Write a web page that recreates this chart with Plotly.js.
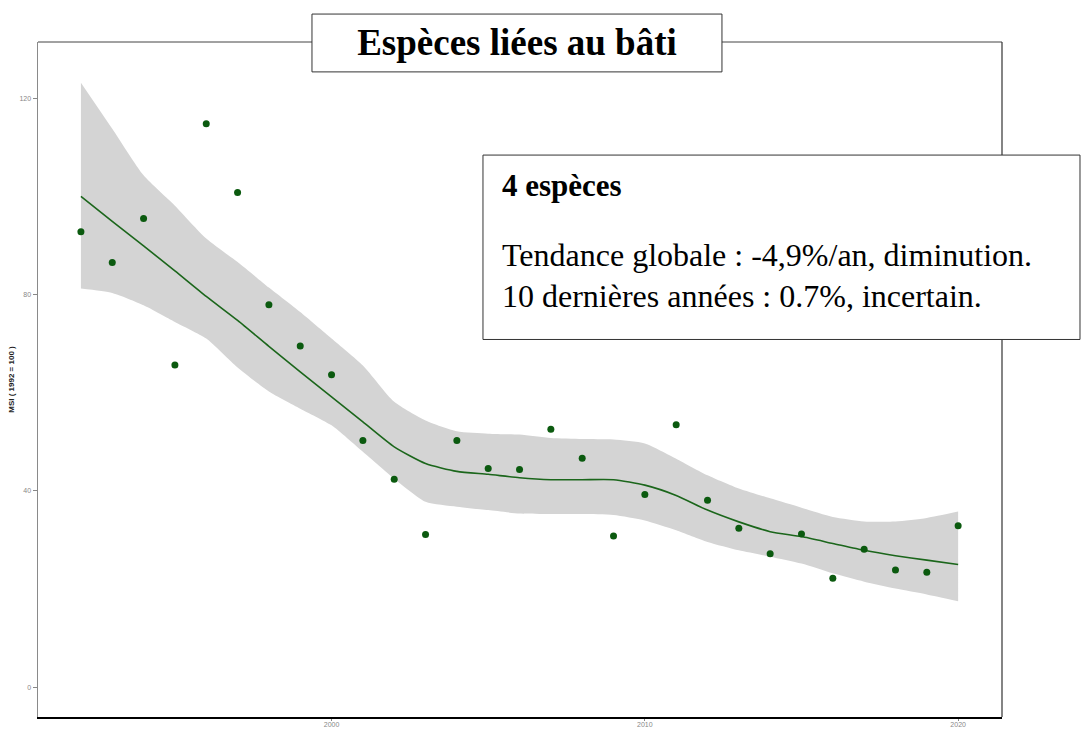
<!DOCTYPE html>
<html>
<head>
<meta charset="utf-8">
<script src="https://cdn.plot.ly/plotly-3.0.1.min.js"></script>
<style>html,body{margin:0;padding:0;background:#fff;}#chart{width:1081px;height:729px;}</style>
</head>
<body>
<div id="chart"></div>
<script>
const years = [1992,1993,1994,1995,1996,1997,1998,1999,2000,2001,2002,2003,2004,2005,2006,2007,2008,2009,2010,2011,2012,2013,2014,2015,2016,2017,2018,2019,2020];
const msi = [92.9,86.6,95.6,65.7,114.9,100.9,78.0,69.6,63.7,50.3,42.4,31.1,50.3,44.6,44.4,52.6,46.7,30.8,39.3,53.5,38.1,32.4,27.2,31.2,22.2,28.1,23.9,23.4,32.9];
const trend = [100.1,95.0,90.0,84.9,79.7,74.8,69.5,64.3,59.2,54.1,49.0,45.6,44.0,43.4,42.7,42.3,42.3,42.3,41.2,39.1,36.1,33.7,31.7,30.7,29.3,27.9,26.8,25.9,25.0];
const upper = [123.3,113.9,104.4,98.2,91.5,86.7,81.5,76.5,71.1,65.6,58.2,54.4,52.2,51.7,51.5,50.8,50.6,50.5,49.7,46.6,43.2,40.5,38.5,36.6,34.7,33.8,33.8,34.5,35.8];
const lower = [81.3,80.4,77.9,74.5,71.1,65.2,60.3,56.8,53.4,48.0,42.5,37.8,36.8,36.1,35.4,35.3,35.3,35.1,34.0,32.0,29.6,27.9,26.6,25.2,23.2,21.5,20.1,18.9,17.5];
const xTicks = [2000, 2010, 2020];
const yTicks = [0, 40, 80, 120];
const chartTitle = "Espèces liées au bâti";
const yTitle = "MSI ( 1992 = 100 )";
const boxHeading = "4 espèces";
const boxLine1 = "Tendance globale : -4,9%/an, diminution.";
const boxLine2 = "10 dernières années : 0.7%, incertain.";

const serif = "Liberation Serif, Times New Roman, serif";
const sans = "Liberation Sans, Arial, sans-serif";
const traces = [
  {x: years, y: upper, type: 'scatter', mode: 'lines', line: {width: 0, shape: 'spline', smoothing: 0.6}, hoverinfo: 'skip', showlegend: false},
  {x: years, y: lower, type: 'scatter', mode: 'lines', fill: 'tonexty', fillcolor: '#d4d4d4', line: {width: 0, shape: 'spline', smoothing: 0.6}, hoverinfo: 'skip', showlegend: false},
  {x: years, y: trend, type: 'scatter', mode: 'lines', line: {color: '#1b661b', width: 1.6, shape: 'spline', smoothing: 0.6}, showlegend: false},
  {x: years, y: msi, type: 'scatter', mode: 'markers', marker: {color: '#0b5a0f', size: 7}, showlegend: false}
];

const layout = {
  width: 1081, height: 729,
  margin: {l: 38, r: 79, t: 42, b: 12},
  paper_bgcolor: '#ffffff', plot_bgcolor: '#ffffff',
  showlegend: false,
  title: {text: '<b>' + chartTitle + '</b>', font: {family: serif, size: 37, color: '#000'}, x: 517/1081, xanchor: 'center', y: 1 - 42/729, yanchor: 'middle'},
  xaxis: {range: [1990.63, 2021.40], showgrid: false, zeroline: false, showline: true, linecolor: '#000', linewidth: 2,
          ticks: 'outside', ticklen: 2, tickcolor: '#888', tickvals: xTicks, ticktext: xTicks.map(String),
          ticklabelstandoff: -2,
          tickfont: {family: sans, size: 7, color: '#888'}},
  yaxis: {range: [-6.11, 131.6], showgrid: false, zeroline: false, showline: true, linecolor: '#8a8a8a', linewidth: 1.5,
          ticks: 'outside', ticklen: 4, tickcolor: '#888', tickvals: yTicks, ticktext: yTicks.map(String),
          tickfont: {family: sans, size: 7, color: '#888'},
          title: {text: '<b>' + yTitle + '</b>', font: {family: sans, size: 8, color: '#222'}, standoff: 3}},
  shapes: [
    {type: 'line', xref: 'paper', yref: 'paper', x0: 0, x1: 1, y0: 1, y1: 1, line: {color: '#444', width: 1}},
    {type: 'line', xref: 'paper', yref: 'paper', x0: 1, x1: 1, y0: 0, y1: 1, line: {color: '#333', width: 1.2}},
    {type: 'rect', xref: 'paper', yref: 'paper', x0: 0.2842, x1: 0.7095, y0: 0.9557, y1: 1.0414, fillcolor: '#fff', line: {color: '#333', width: 1}},
    {type: 'rect', xref: 'paper', yref: 'paper', x0: 0.4616, x1: 1.0809, y0: 0.5593, y1: 0.8325, fillcolor: '#fff', line: {color: '#333', width: 1}}
  ],
  annotations: [
    {xref: 'paper', yref: 'paper', x: 0.4793, y: 0.7872, xanchor: 'left', yanchor: 'middle', showarrow: false, align: 'left',
     text: '<b>' + boxHeading + '</b>', font: {family: serif, size: 31, color: '#000'}},
    {xref: 'paper', yref: 'paper', x: 0.4793, y: 0.6838, xanchor: 'left', yanchor: 'middle', showarrow: false, align: 'left',
     text: boxLine1, font: {family: serif, size: 32, color: '#000'}},
    {xref: 'paper', yref: 'paper', x: 0.4793, y: 0.6232, xanchor: 'left', yanchor: 'middle', showarrow: false, align: 'left',
     text: boxLine2, font: {family: serif, size: 32, color: '#000'}}
  ]
};

Plotly.newPlot('chart', traces, layout, {displayModeBar: false, staticPlot: true});
</script>
</body>
</html>
